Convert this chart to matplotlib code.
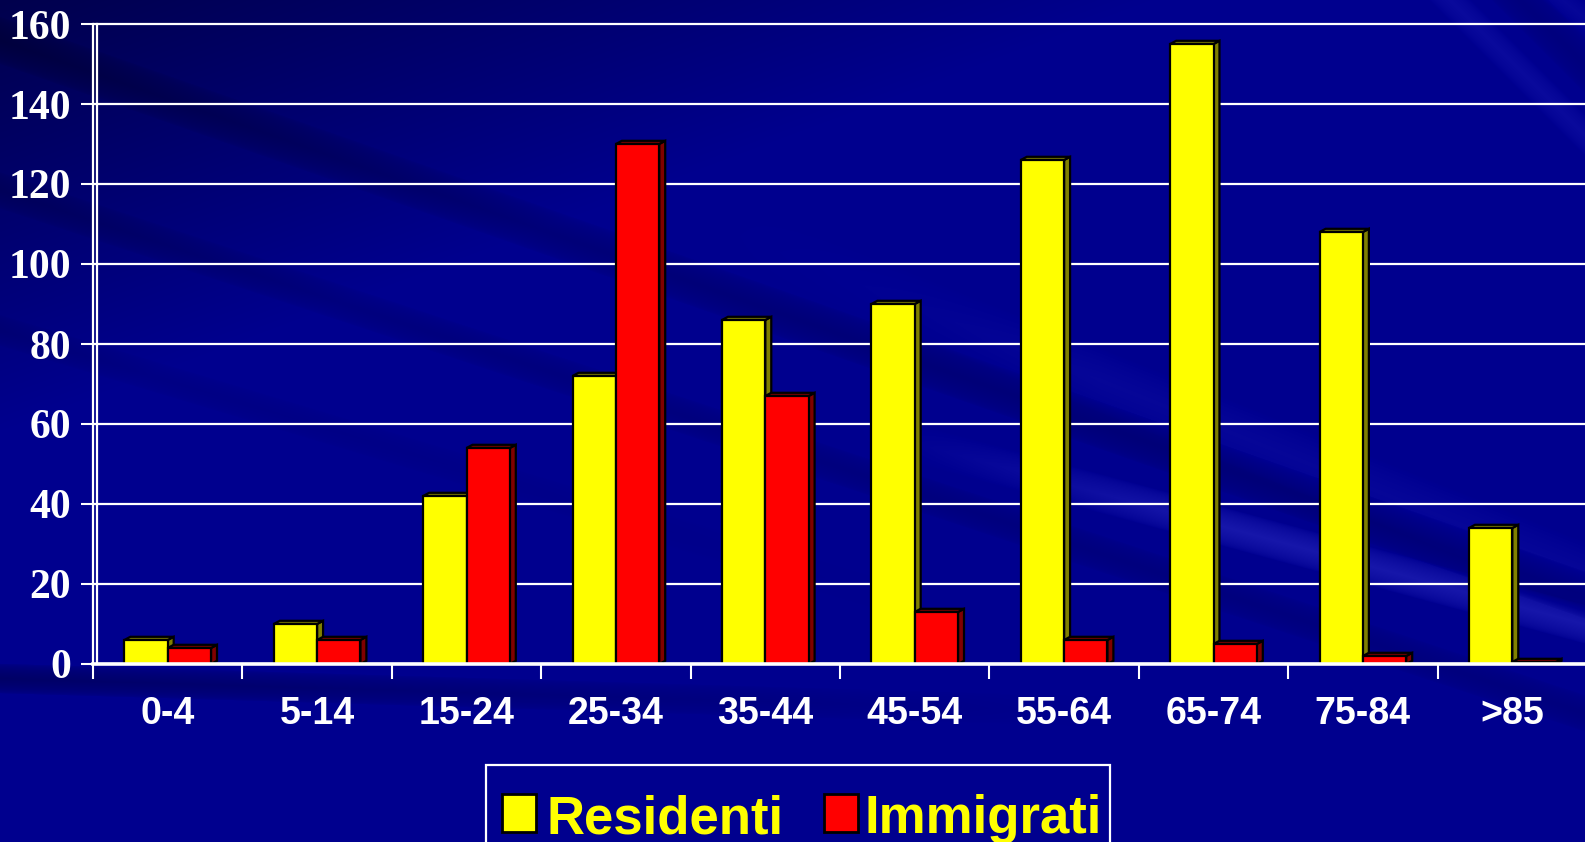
import numpy as np
import matplotlib.pyplot as plt
from matplotlib import font_manager
from matplotlib.patches import Polygon, Rectangle
from matplotlib.transforms import offset_copy

age_groups = ["0-4", "5-14", "15-24", "25-34", "35-44", "45-54", "55-64", "65-74", "75-84", ">85"]
residenti = [6, 10, 42, 72, 86, 90, 126, 155, 108, 34]
immigrati = [4, 6, 54, 130, 67, 13, 6, 5, 2, 0.5]
y_ticks = [0, 20, 40, 60, 80, 100, 120, 140, 160]

series = [
    ("Residenti", residenti, "#ffff00", "#808000"),
    ("Immigrati", immigrati, "#ff0000", "#800000"),
]

installed = {f.name for f in font_manager.fontManager.ttflist}
narrow = "Liberation Sans Narrow" in installed
sans = "Liberation Sans Narrow" if narrow else "Liberation Sans"
serif = "Liberation Serif"
xlab_size = 30 if narrow else 27
leg_size = 46 if narrow else 38

W, H = 1585, 842
fig = plt.figure(figsize=(W / 100, H / 100), dpi=100)

# slide background: navy with diagonal streaks
yy, xx = np.mgrid[0:H, 0:W].astype(float)
blue = np.full((H, W), 142.0)
blue -= 65 * np.clip(1 - (xx / 1150 + yy / 430), 0, 1)


def streak(slope, icpt, width, delta, fade=None):
    d = np.abs(yy - (slope * xx + icpt)) / np.sqrt(1 + slope ** 2)
    m = np.clip(1 - d / (width / 2), 0, 1) ** 0.5
    if fade is not None:
        m = m * fade
    return delta * m


blue += streak(0.35, 40, 45, -22)
blue += streak(0.33, 190, 35, -16)
blue += streak(0.30, 330, 30, -12, np.clip(1 - xx / 900, 0, 1))
blue += streak(0.03, 678, 30, -40, np.clip(1 - xx / 1100, 0, 1))
blue += streak(0.27, 196, 38, 28, np.clip((xx - 850) / 350, 0, 1))
blue += streak(0.40, -60, 60, 10, np.clip((xx - 700) / 400, 0, 1))
blue += streak(1.0, -1450, 30, 14)
blue += streak(1.0, -1520, 40, -16)
blue += streak(0.8, -1250, 25, 10)
rg = np.clip((blue - 145) * 0.9, 0, 255)
img = np.dstack([rg, rg, np.clip(blue, 0, 255)]) / 255.0

bg = fig.add_axes([0, 0, 1, 1], zorder=-10)
bg.imshow(img, aspect="auto", extent=(0, 1, 0, 1), interpolation="bilinear")
bg.axis("off")

ax = fig.add_axes([93 / W, 178 / H, 1494 / W, 644 / H])
ax.patch.set_alpha(0)
ax.set_xlim(-0.5, 9.5)
ax.set_ylim(0, 161)

x = np.arange(len(age_groups))
bw = 0.29
dx, dy = 0.04, 0.8  # depth of the 3D faces in data units

for k, (name, vals, face, shade) in enumerate(series):
    xs = x + (k - 0.5) * bw
    ax.bar(xs, vals, width=bw, color=face, edgecolor="black", linewidth=1.6, zorder=3 + 2 * k)
    for xi, v in zip(xs, vals):
        left, right = xi - bw / 2, xi + bw / 2
        side = [(right, 0), (right + dx, dy), (right + dx, v + dy), (right, v)]
        top = [(left, v), (left + dx, v + dy), (right + dx, v + dy), (right, v)]
        for pts in (side, top):
            ax.add_patch(Polygon(pts, closed=True, facecolor=shade, edgecolor="black",
                                 linewidth=1.6, zorder=2 + 2 * k, joinstyle="miter"))

ax.set_yticks(y_ticks)
ax.set_yticklabels([str(t) for t in y_ticks], fontfamily=serif, fontweight="bold",
                   fontsize=30, color="white")
ax.yaxis.grid(True, color="white", linewidth=1.6)
ax.set_axisbelow(True)

ax.set_xticks(x)
ax.set_xticklabels(age_groups, fontfamily=sans, fontweight="bold", fontsize=xlab_size, color="white")
ax.set_xticks(np.arange(-0.5, 10, 1), minor=True)
ax.tick_params(axis="x", which="major", length=0, pad=23)
ax.tick_params(axis="x", which="minor", length=11, width=1.5, color="white", direction="out")
ax.tick_params(axis="y", length=9, width=1.5, color="white", direction="out", pad=7)

for s in ("top", "right"):
    ax.spines[s].set_visible(False)
ax.spines["left"].set_color("white")
ax.spines["left"].set_linewidth(1.6)
ax.spines["left"].set_bounds(0, 160)
ax.spines["bottom"].set_color("white")
ax.spines["bottom"].set_linewidth(2.6)
ax.spines["bottom"].set_zorder(10)

# inner edge of the chart wall, a few pixels right of the axis
wall = offset_copy(ax.get_xaxis_transform(), fig=fig, x=4, units="dots")
ax.plot([-0.5, -0.5], [0, 160 / 161], color="white", linewidth=1.6, transform=wall, clip_on=False)

# legend box along the bottom edge
ft = fig.transFigure
fig.add_artist(Rectangle((486 / W, -0.02), 624 / W, (H - 765) / H + 0.02, transform=ft,
                         facecolor="none", edgecolor="white", linewidth=1.6))
legend_x = [(502, 546), (824, 864)]
for (mx, tx), (name, vals, face, shade) in zip(legend_x, series):
    fig.add_artist(Rectangle((mx / W, (H - 832) / H), 34 / W, 38 / H, transform=ft,
                             facecolor=face, edgecolor="black", linewidth=2))
    fig.text(tx / W, (H - 833) / H, name, transform=ft, fontfamily=sans, fontweight="bold",
             fontsize=leg_size, color="#ffff00", ha="left", va="baseline")

fig.savefig("out.png", dpi=100)
